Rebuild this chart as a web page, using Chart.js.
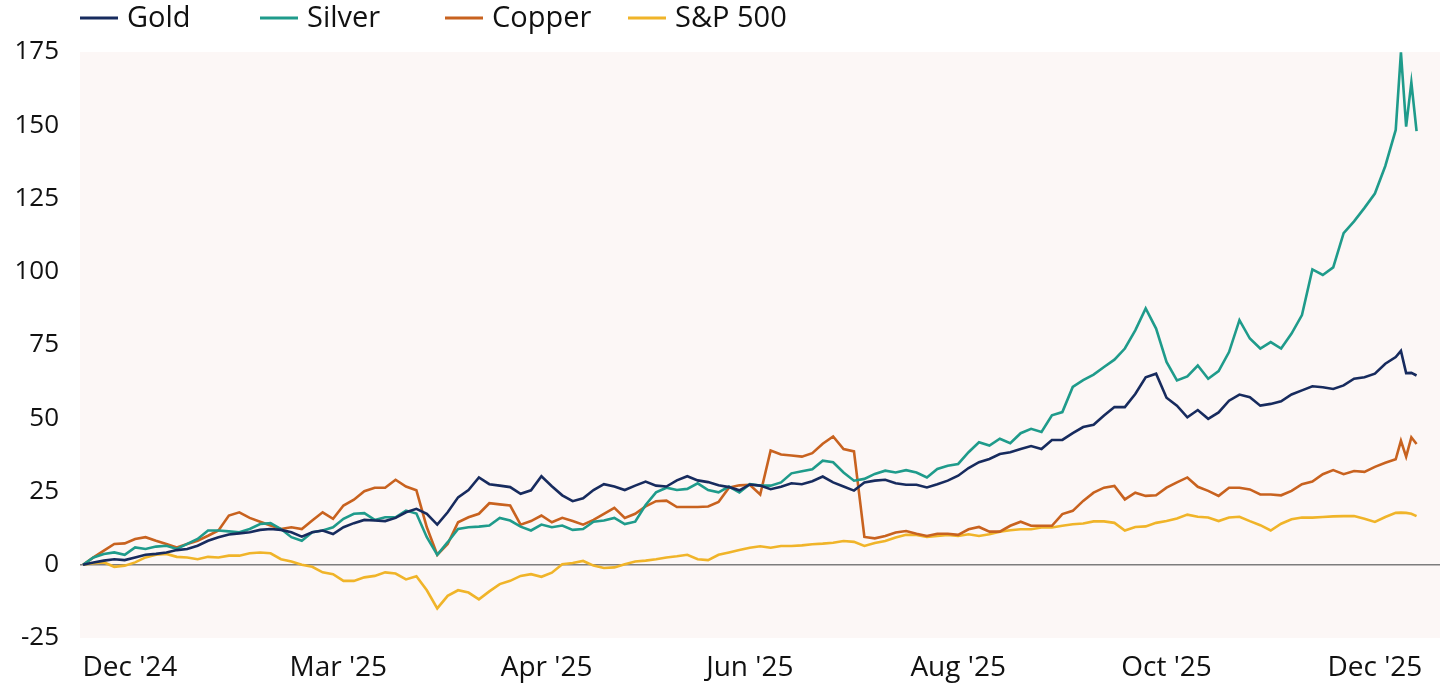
<!DOCTYPE html>
<html>
<head>
<meta charset="utf-8">
<script src="https://cdn.jsdelivr.net/npm/chart.js@4.4.1/dist/chart.umd.min.js"></script>
<style>
  html, body { margin: 0; padding: 0; background: #ffffff; }
  #wrap { width: 1441px; height: 686px; }
</style>
</head>
<body>
<div id="wrap"><canvas id="c" width="1441" height="686"></canvas></div>
<script>
// Trading-day index of each sample
const days = [0,2,4,6,8,10,12,14,16,18,20,22,24,26,28,30,32,34,36,38,40,42,44,46,48,50,52,54,56,58,
  60,62,64,66,68,70,72,74,76,78,80,82,84,86,88,90,92,94,96,98,100,102,104,106,108,110,112,114,116,118,
  120,122,124,126,128,130,132,134,136,138,140,142,144,146,148,150,152,154,156,158,160,162,164,166,168,170,172,174,176,178,
  180,182,184,186,188,190,192,194,196,198,200,202,204,206,208,210,212,214,216,218,220,222,224,226,228,230,232,234,236,238,
  240,242,244,246,248,250,252,253,254,255,256];

const gold = [0,0.8,1.4,1.9,1.6,2.5,3.4,3.7,4.2,5.0,
  5.4,6.5,8.2,9.4,10.3,10.7,11.1,11.9,12.2,11.9,
  11.1,9.6,11.1,11.7,10.5,12.8,14.2,15.3,15.1,14.9,
  16.0,17.9,19.1,17.4,13.7,17.9,23.0,25.5,29.8,27.5,
  27.0,26.5,24.2,25.4,30.2,26.8,23.7,21.7,22.7,25.5,
  27.5,26.7,25.5,27.0,28.4,27.0,26.7,28.8,30.2,28.8,
  28.2,27.1,26.5,25.4,27.4,27.0,25.8,26.6,27.8,27.5,
  28.5,30.1,28.1,26.7,25.3,28.1,28.7,29.0,27.8,27.3,
  27.3,26.4,27.5,28.7,30.4,33.0,35.0,36.1,37.8,38.4,
  39.5,40.5,39.5,42.6,42.6,44.9,47.0,47.8,50.9,53.8,
  53.8,58.3,64.0,65.2,57.0,54.3,50.3,52.8,49.8,52.0,
  56.0,58.1,57.2,54.3,54.9,55.8,58.1,59.5,60.9,60.6,
  60.0,61.2,63.5,64.0,65.2,68.6,70.9,
  73.0,65.4,65.5,64.6];

const silver = [0,2.5,3.7,4.2,3.4,5.9,5.4,6.2,6.5,5.4,
  7.1,8.8,11.7,11.7,11.4,11.1,12.2,13.9,14.2,12.2,
  9.4,8.2,11.1,11.7,12.8,15.7,17.4,17.6,15.3,16.2,
  16.2,18.5,17.5,9.4,3.4,7.7,12.2,12.8,13.0,13.4,
  16.0,15.1,13.0,11.7,13.7,12.8,13.4,11.9,12.2,14.7,
  15.1,16.0,13.9,14.7,20.4,24.7,26.3,25.5,25.9,27.8,
  25.5,24.7,26.7,24.7,27.5,27.0,27.0,28.1,31.2,31.9,
  32.6,35.5,35.0,31.5,28.7,29.3,31.0,32.1,31.5,32.3,
  31.5,29.8,32.7,33.8,34.4,38.4,41.8,40.7,43.0,41.5,
  44.9,46.4,45.3,51.0,52.1,60.7,63.0,64.9,67.5,70.0,
  73.8,80.0,87.5,80.6,69.2,62.9,64.3,68.0,63.5,66.1,
  72.6,83.5,77.2,73.8,76.0,73.8,78.9,85.2,100.8,98.9,
  101.5,113.2,117.2,121.8,126.7,136.1,148.4,
  174.9,149.5,164.6,148.0];

const copper = [0,2.5,4.8,7.1,7.3,8.8,9.4,8.2,7.1,5.9,
  7.1,8.2,9.9,11.7,16.8,17.9,16.0,14.7,13.4,12.2,
  12.8,12.2,15.1,17.9,15.7,20.2,22.2,25.1,26.3,26.3,
  29.0,26.7,25.4,12.8,3.4,7.1,14.5,16.2,17.4,21.0,
  20.6,20.2,13.7,14.9,16.8,14.5,16.0,14.9,13.7,15.3,
  17.4,19.4,16.0,17.4,19.9,21.7,21.9,19.7,19.7,19.7,
  19.9,21.4,26.3,27.1,27.3,24.0,39.0,37.6,37.3,36.9,
  38.1,41.3,43.8,39.5,38.7,9.5,9.0,9.8,11.0,11.5,
  10.6,9.8,10.6,10.6,10.2,12.1,12.9,11.3,11.3,13.3,
  14.7,13.3,13.3,13.3,17.3,18.4,21.8,24.6,26.3,26.9,
  22.3,24.6,23.5,23.7,26.3,28.1,29.8,26.6,25.2,23.5,
  26.3,26.3,25.7,24.0,24.0,23.7,25.2,27.5,28.4,30.9,
  32.3,30.9,32.0,31.7,33.4,34.8,36.0,
  42.3,36.9,43.5,41.2];

const sp500 = [0,0.5,0.8,-0.7,-0.3,0.8,2.5,3.4,3.7,2.7,
  2.5,1.9,2.7,2.5,3.1,3.1,3.9,4.2,3.9,1.9,
  1.1,0,-0.7,-2.6,-3.2,-5.5,-5.5,-4.3,-3.8,-2.6,
  -3.0,-5.0,-3.9,-8.7,-14.9,-10.6,-8.7,-9.5,-11.8,-9.1,
  -6.6,-5.5,-3.8,-3.2,-4.1,-2.7,0.2,0.6,1.3,-0.3,
  -1.1,-0.9,0.2,1.1,1.4,1.9,2.5,2.9,3.4,1.9,
  1.6,3.4,4.2,5.0,5.8,6.3,5.8,6.4,6.4,6.6,
  7.0,7.2,7.5,8.1,7.8,6.4,7.4,8.1,9.3,10.2,
  10.2,9.5,9.8,10.2,9.8,10.4,9.8,10.4,11.3,11.8,
  12.1,12.1,12.7,12.7,13.3,13.8,14.1,14.8,14.8,14.3,
  11.7,12.9,13.1,14.3,14.9,15.8,17.1,16.4,16.1,14.9,
  16.1,16.4,14.9,13.5,11.7,14.0,15.5,16.1,16.1,16.3,
  16.5,16.6,16.6,15.7,14.6,16.3,17.7,
  17.8,17.7,17.4,16.6];

const seriesNames = ["Gold", "Silver", "Copper", "S&P 500"];
const xTickLabels = ["Dec '24", "Mar '25", "Apr '25", "Jun '25", "Aug '25", "Oct '25", "Dec '25"];
const xTickDays = [9, 49, 89, 128, 168, 208, 248];
const yTicks = [-25, 0, 25, 50, 75, 100, 125, 150, 175];

const colors = ["#172b5e", "#1f9b8b", "#c8621f", "#f0b429"];
const FONT = "'Open Sans', sans-serif";

const pts = arr => arr.map((v, i) => ({ x: days[i], y: v }));
const values = [gold, silver, copper, sp500];

const bgPlugin = {
  id: 'plotBg',
  beforeDraw(chart) {
    const { ctx, chartArea: a } = chart;
    ctx.save();
    ctx.fillStyle = '#fcf7f6';
    ctx.fillRect(a.left, a.top, a.right - a.left, a.bottom - a.top);
    ctx.restore();
  }
};

const legendPlugin = {
  id: 'topLegend',
  afterDraw(chart) {
    const { ctx } = chart;
    const starts = [80, 260, 445, 628];
    ctx.save();
    ctx.font = "29px " + FONT;
    ctx.textBaseline = 'middle';
    ctx.fillStyle = '#111111';
    chart.data.datasets.forEach((ds, i) => {
      const x = starts[i];
      ctx.strokeStyle = ds.borderColor;
      ctx.lineWidth = 3;
      ctx.beginPath();
      ctx.moveTo(x, 18);
      ctx.lineTo(x + 38, 18);
      ctx.stroke();
      ctx.fillText(ds.label, x + 47, 19);
    });
    ctx.restore();
  }
};

new Chart(document.getElementById('c'), {
  type: 'line',
  data: {
    datasets: seriesNames.map((name, i) => ({
      label: name,
      data: pts(values[i]),
      borderColor: colors[i],
      backgroundColor: colors[i],
      borderWidth: 2.6,
      pointRadius: 0,
      tension: 0,
      fill: false
    }))
  },
  options: {
    responsive: false,
    animation: false,
    devicePixelRatio: 1,
    layout: { padding: { top: 52, right: 1, left: 0, bottom: 0 } },
    plugins: { legend: { display: false }, tooltip: { enabled: false } },
    scales: {
      x: {
        type: 'linear',
        min: -0.58,
        max: 260.5,
        afterBuildTicks(scale) { scale.ticks = xTickDays.map(v => ({ value: v })); },
        afterFit(scale) { scale.height = 48; },
        grid: { display: false },
        border: { display: false },
        ticks: {
          autoSkip: false,
          maxRotation: 0,
          padding: 5,
          color: '#111111',
          font: { family: FONT, size: 28 },
          callback: (v, i) => xTickLabels[i]
        }
      },
      y: {
        min: -25,
        max: 175,
        afterBuildTicks(scale) { scale.ticks = yTicks.map(v => ({ value: v })); },
        afterFit(scale) { scale.width = 80; },
        border: { display: false },
        grid: {
          drawTicks: false,
          color: ctx => (ctx.tick && ctx.tick.value === 0) ? '#7d7d7d' : 'rgba(0,0,0,0)',
          lineWidth: 1.5
        },
        ticks: {
          padding: 21,
          color: '#111111',
          font: { family: FONT, size: 26 },
          callback: v => String(v)
        }
      }
    }
  },
  plugins: [bgPlugin, legendPlugin]
});
</script>
</body>
</html>
